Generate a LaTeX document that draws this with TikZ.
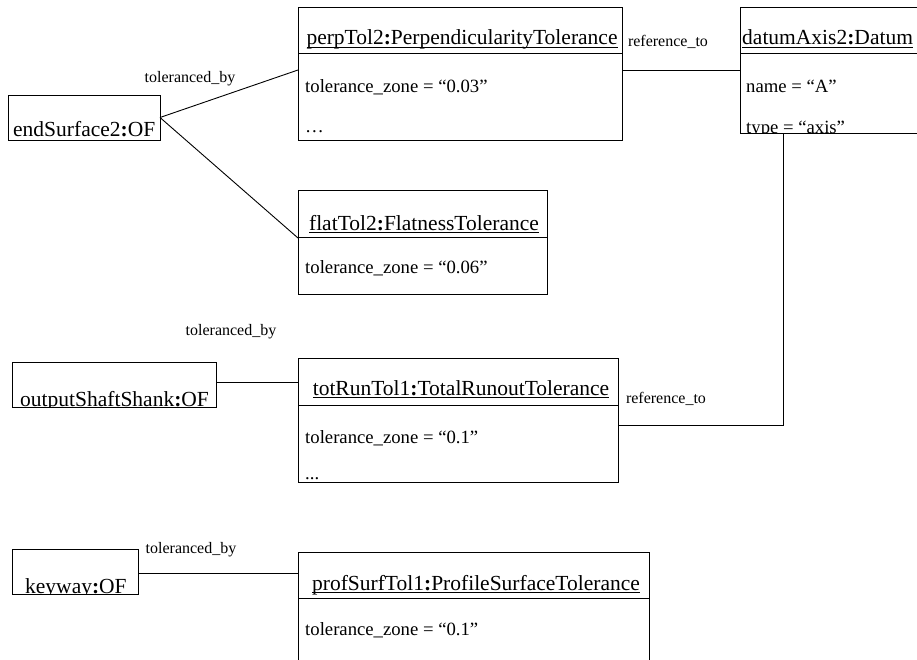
\documentclass[tikz,border=0pt]{standalone}
\usepackage{fontspec}
\setmainfont{Liberation Serif}
\usepackage{tikz}
\usetikzlibrary{positioning, calc}
\newcommand{\objname}[1]{\leavevmode\setbox0\hbox{#1}\rlap{\rule[-3pt]{\wd0}{0.9pt}}\box0}

\begin{document}
\begin{tikzpicture}[
    x=1pt, y=-1pt,
    objbox/.style={draw, rectangle, anchor=north west, inner sep=0pt, outer sep=0pt, line width=0.9pt},
    hdr/.style={anchor=base, inner sep=0pt, font=\fontsize{21.5}{24}\selectfont},
    ofname/.style={anchor=base west, inner sep=0pt, font=\fontsize{21.5}{24}\selectfont},
    attr/.style={anchor=base west, inner sep=0pt, font=\fontsize{18.7}{22}\selectfont},
    lab/.style={anchor=base, inner sep=0pt, font=\fontsize{16}{18}\selectfont},
    link/.style={line width=0.9pt}
]
\clip (0,0) rectangle (917,660);
\fill[white] (0,0) rectangle (917,660);

% objects
\node[objbox, minimum width=324pt, minimum height=133pt] (perp) at (298,7) {};
\node[objbox, minimum width=190pt, minimum height=126pt] (datum) at (740,7) {};
\node[objbox, minimum width=249pt, minimum height=104pt] (flat) at (298,190) {};
\node[objbox, minimum width=320pt, minimum height=124pt] (totRun) at (298,358) {};
\node[objbox, minimum width=351pt, minimum height=140pt] (profSurf) at (298,552) {};
\node[objbox, minimum width=152pt, minimum height=45pt] (endSurf) at (8,95) {};
\node[objbox, minimum width=204pt, minimum height=45pt] (outShank) at (12,362) {};
\node[objbox, minimum width=126pt, minimum height=45pt] (keyway) at (12,549) {};

% compartment lines
\foreach \o/\y in {perp/53,datum/53,flat/237,totRun/405,profSurf/598}
  \draw[line width=0.9pt] (\o.west |- 0,\y) -- (\o.east |- 0,\y);

% headers
\node[hdr] (perpName) at (462,45) {\objname{perpTol2\textbf{:}PerpendicularityTolerance}};
\node[ofname] (datumName) at (742,45) {\objname{datumAxis2\textbf{:}Datum}};
\node[hdr] (flatName) at (424,230) {\objname{flatTol2\textbf{:}FlatnessTolerance}};
\node[hdr] (totRunName) at (461,395) {\objname{totRunTol1\textbf{:}TotalRunoutTolerance}};
\node[hdr] (profSurfName) at (476,590) {\objname{profSurfTol1\textbf{:}ProfileSurfaceTolerance}};
\node[ofname] (endSurfName) at (13,137) {endSurface2\textbf{:}OF};
\begin{scope}
  \clip (outShank.north west) rectangle (outShank.south east);
  \node[ofname] (outShankName) at (20,406) {outputShaftShank\textbf{:}OF};
\end{scope}
\begin{scope}
  \clip (keyway.north west) rectangle (keyway.south east);
  \node[ofname] (keywayName) at (25,593) {keyway\textbf{:}OF};
\end{scope}

% attributes
\node[attr] (perpZone) at (305,93) {tolerance\_zone = “0.03”};
\node[attr] (perpMore) at (305,133) {…};
\node[attr] (datumNameAttr) at (746,93) {name = “A”};
\begin{scope}
  \clip (datum.north west) rectangle (datum.south east);
  \node[attr] (datumType) at (746,134) {type = “axis”};
\end{scope}
\node[attr] (flatZone) at (305,273) {tolerance\_zone = “0.06”};
\node[attr] (totRunZone) at (305,443) {tolerance\_zone = “0.1”};
\node[attr] (totRunMore) at (305,479) {...};
\node[attr] (profSurfZone) at (305,635) {tolerance\_zone = “0.1”};

% links
\coordinate (bend) at (783,425);
\draw[link] (endSurf.east) -- (perp.west |- 0,70);
\draw[link] (endSurf.east) -- (flat.west |- 0,238);
\draw[link] (perp.east |- 0,70) -- (datum.west |- 0,70);
\draw[link] (outShank.east |- 0,382) -- (totRun.west |- 0,382);
\draw[link] (totRun.east |- bend) -- (bend) -- (bend |- datum.south);
\draw[link] (keyway.east |- 0,573) -- (profSurf.west |- 0,573);

% link labels
\node[lab] (tb1) at (190,83) {toleranced\_by};
\node[lab] (tb2) at (231,335) {toleranced\_by};
\node[lab] (tb3) at (191,553) {toleranced\_by};
\node[lab] (rt1) at (668,47) {reference\_to};
\node[lab] (rt2) at (666,403) {reference\_to};
\end{tikzpicture}
\end{document}
